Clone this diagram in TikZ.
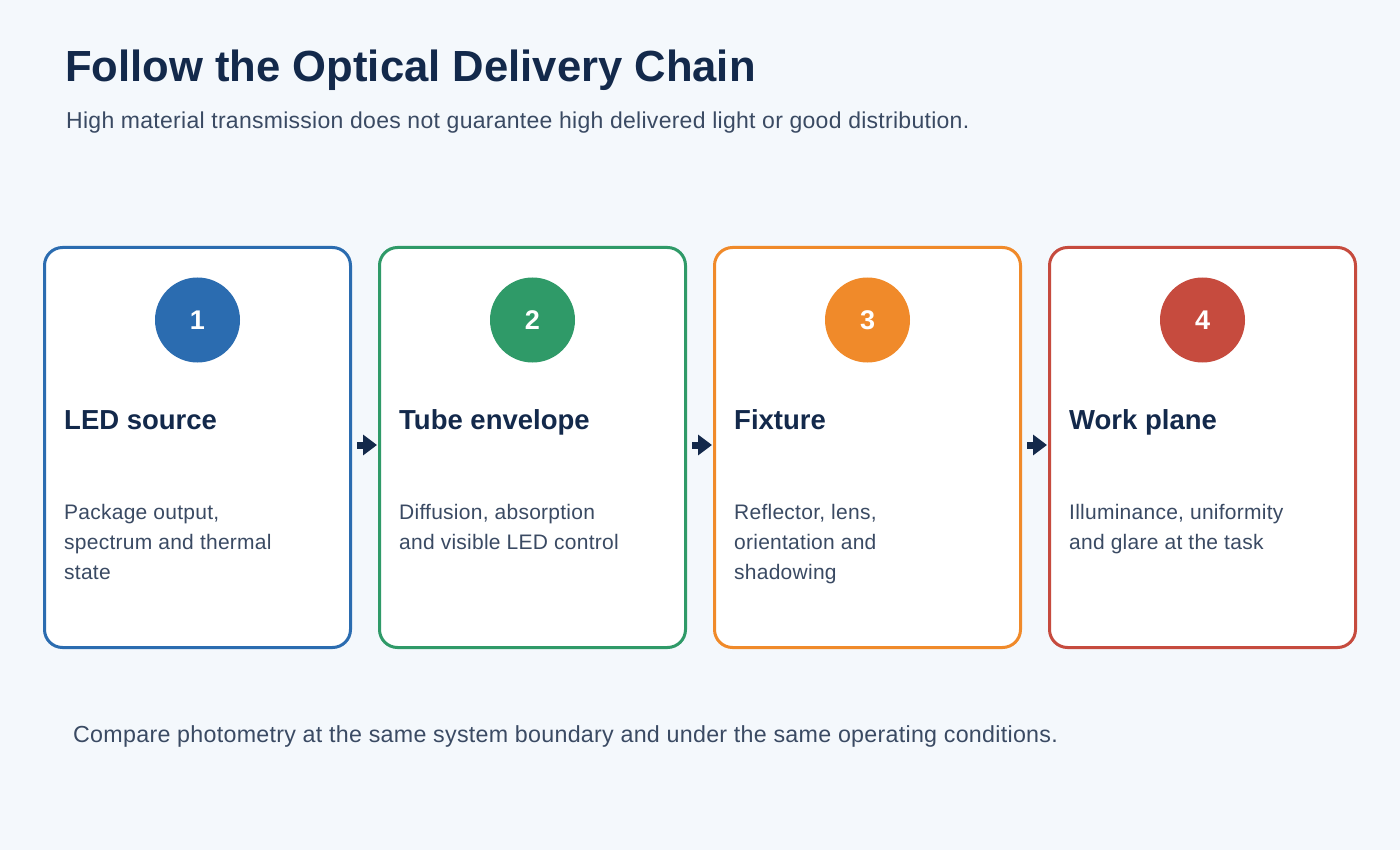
\documentclass[tikz,border=0pt]{standalone}
\usepackage{fontspec}
\setmainfont{Liberation Sans}
\newfontfamily\widesans[LetterSpace=1.2]{Liberation Sans}
\usetikzlibrary{arrows.meta}
\definecolor{bg}{HTML}{F4F8FC}
\definecolor{titlec}{HTML}{13294B}
\definecolor{textc}{HTML}{3A4A63}
\definecolor{cblue}{HTML}{2B6CB0}
\definecolor{cgreen}{HTML}{2F9A68}
\definecolor{corange}{HTML}{F08A2A}
\definecolor{cred}{HTML}{C64B3E}
\tikzset{
  stagebox/.style={draw=#1, line width=3pt, fill=white, rounded corners=18pt,
    minimum width=306pt, minimum height=400pt, outer sep=0pt, inner sep=0pt},
  badge/.style={circle, fill=#1, minimum size=85pt, inner sep=0pt,
    text=white, font=\fontsize{27}{30}\selectfont\bfseries},
  heading/.style={anchor=base west, inner sep=0pt, text=titlec,
    font=\fontsize{27.5}{30}\selectfont\bfseries},
  body/.style={anchor=north west, inner sep=0pt, text=textc, align=left,
    font=\widesans\fontsize{21}{30}\selectfont},
  flow/.style={draw=titlec, line width=7pt, -{Triangle[length=14pt,width=20pt]},
    shorten <=6.5pt, shorten >=2.5pt}
}
\begin{document}
\begin{tikzpicture}[x=1pt,y=-1pt]
\fill[bg] (0,0) rectangle (1400,850);
\useasboundingbox (0,0) rectangle (1400,850);
\node[anchor=base west, inner sep=0pt, text=titlec, font=\fontsize{43.6}{50}\selectfont\bfseries] (title) at (65,82) {Follow the Optical Delivery Chain};
\node[anchor=base west, inner sep=0pt, text=textc, font=\widesans\fontsize{23}{26}\selectfont] (sub) at (66,129) {High material transmission does not guarantee high delivered light or good distribution.};
% boxes
\node[stagebox=cblue] (b1) at (197.5,447.5) {};
\node[stagebox=cgreen] (b2) at (532.5,447.5) {};
\node[stagebox=corange] (b3) at (867.5,447.5) {};
\node[stagebox=cred] (b4) at (1202.5,447.5) {};
% badges
\node[badge=cblue] (n1) at (197.5,320) {1};
\node[badge=cgreen] (n2) at (532.5,320) {2};
\node[badge=corange] (n3) at (867.5,320) {3};
\node[badge=cred] (n4) at (1202.5,320) {4};
% headings
\node[heading] (h1) at (64,429.5) {LED source};
\node[heading] (h2) at (399,429.5) {Tube envelope};
\node[heading] (h3) at (734,429.5) {Fixture};
\node[heading] (h4) at (1069,429.5) {Work plane};
% bodies
\node[body] (t1) at (64,504.5) {Package output,\\spectrum and thermal\\state};
\node[body] (t2) at (399,504.5) {Diffusion, absorption\\and visible LED control};
\node[body] (t3) at (734,504.5) {Reflector, lens,\\orientation and\\shadowing};
\node[body] (t4) at (1069,504.5) {Illuminance, uniformity\\and glare at the task};
% arrows
\draw[flow] ([yshift=2.5pt]b1.east) -- ([yshift=2.5pt]b2.west);
\draw[flow] ([yshift=2.5pt]b2.east) -- ([yshift=2.5pt]b3.west);
\draw[flow] ([yshift=2.5pt]b3.east) -- ([yshift=2.5pt]b4.west);
% footer
\node[anchor=base west, inner sep=0pt, text=textc, font=\widesans\fontsize{23.25}{26}\selectfont] (foot) at (73,742) {Compare photometry at the same system boundary and under the same operating conditions.};
\end{tikzpicture}
\end{document}
